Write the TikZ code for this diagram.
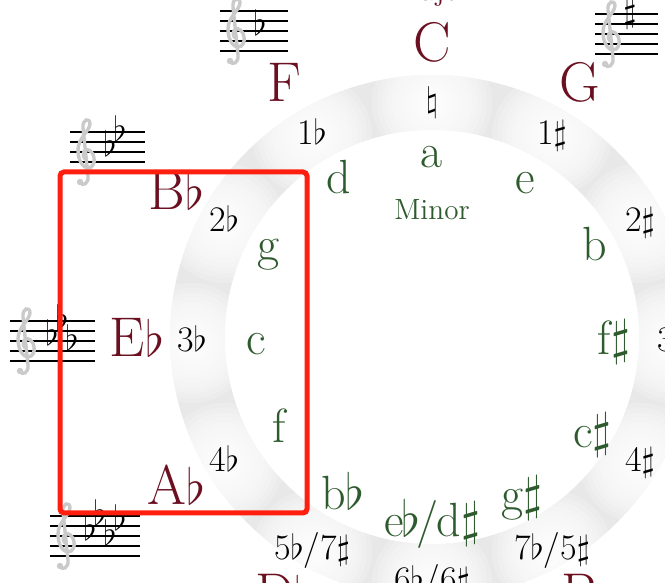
\documentclass[tikz,border=0pt]{standalone}
\usepackage{tikz}
\usetikzlibrary{calc}
\definecolor{majred}{HTML}{6A1020}
\definecolor{mingreen}{HTML}{2E5B2E}
\definecolor{ringgray}{HTML}{E8E8E8}
\definecolor{clefgray}{HTML}{CACACA}
\definecolor{boxred}{HTML}{FF1F0F}
\tikzset{
  every picture/.style={line width=0.8pt},
  major/.style={text=majred, font=\fontsize{28}{28}\selectfont, inner sep=0pt, text height=19.6pt, text depth=5.6pt},
  minor/.style={text=mingreen, font=\fontsize{24}{24}\selectfont, inner sep=0pt, text height=16.8pt, text depth=4.8pt},
  sig/.style={font=\fontsize{18}{18}\selectfont, inner sep=0pt, text height=12.6pt, text depth=3.6pt},
  glow/.style={white, opacity=0.2},
  staffline/.style={line width=0.7pt},
  clef/.style={draw=clefgray, line width=1.7pt, line cap=round},
  acc/.style={font=\fontsize{17}{17}\selectfont, inner sep=0pt},
  %every node/.append style={draw=blue},
}
% staff with a treble clef: left x, bottom line y, width
\newcommand{\keystaff}[3]{%
  \begin{scope}[shift={(#1,#2)}]
    \foreach \l in {0,10,...,40} \draw[staffline] (0,\l) -- (#3,\l);
    \draw[clef] (10,-10) .. controls (12,-15) and (19,-12) .. (18,-4) -- (13,44)
      .. controls (12,53) and (20,55) .. (20,48) .. controls (19,40) and (8,34) .. (8,22)
      .. controls (8,10) and (14,4) .. (18,4) .. controls (23,4) and (25,10) .. (24,14)
      .. controls (23,21) and (18,23) .. (16,22) .. controls (13,21) and (12,16) .. (15,13);
    \fill[clefgray] (10,-10) circle (3.2);
  \end{scope}}

\begin{document}
\begin{tikzpicture}[x=0.5pt, y=0.5pt]
  \useasboundingbox (0,0) rectangle (665,583);
  \coordinate (o) at (432,246);
  \coordinate (t) at (432,240);

  % ring
  \fill[ringgray] (o) circle (262);
  \begin{scope}
    \clip (o) circle (262);
    \foreach \a in {90,60,120,30,150,0,180,-30,-150,-60,-120,-90}
      \foreach \r in {60,55,...,10}
        \fill[glow] ($(t)+(\a:240)$) circle (\r);
  \end{scope}
  \fill[white] (o) circle (207);

  % staves
  \keystaff{220}{532}{68}
  \keystaff{595}{529}{63}
  \keystaff{70}{411}{75}
  \keystaff{10}{222}{85}
  \keystaff{50}{27}{90}
  \node[acc, anchor=base] (fflat) at (260,547) {$\flat$};
  \node[acc] (gsharp) at (630,569) {$\sharp$};
  \node[acc, anchor=base] (bbflat1) at (110,426) {$\flat$};
  \node[acc, anchor=base] (bbflat2) at (120,441) {$\flat$};
  \node[acc, anchor=base] (ebflat1) at (52,237) {$\flat$};
  \node[acc, anchor=base] (ebflat2) at (62,252) {$\flat$};
  \node[acc, anchor=base] (ebflat3) at (72,232) {$\flat$};
  \node[acc, anchor=base] (abflat1) at (90,42) {$\flat$};
  \node[acc, anchor=base] (abflat2) at (100,57) {$\flat$};
  \node[acc, anchor=base] (abflat3) at (110,37) {$\flat$};
  \node[acc, anchor=base] (abflat4) at (120,52) {$\flat$};

  % major keys
  \node[anchor=base, text=majred, font=\fontsize{14.6}{15}\selectfont] (majlbl) at (432,582) {Major};
  \node[major] (cmaj) at ($(t)+(90:295)$) {C};
  \node[major] (gmaj) at ($(t)+(60:295)$) {G};
  \node[major] (fmaj) at ($(t)+(120:295)$) {F};
  \node[major] (bbmaj) at ($(t)+(150:295)$) {B$\flat$};
  \node[major] (ebmaj) at ($(t)+(180:295)$) {E$\flat$};
  \node[major] (abmaj) at ($(t)+(210:295)$) {A$\flat$};
  \node[major] (dbmaj) at ($(t)+(240:295)$) {D$\flat$};
  \node[major] (bmaj) at ($(t)+(300:295)$) {B};

  % signatures
  \node[sig] (s0) at ($(t)+(90:240)$) {$\natural$};
  \node[sig] (s1s) at ($(t)+(60:240)$) {1$\sharp$};
  \node[sig] (s1f) at ($(t)+(120:240)$) {1$\flat$};
  \node[sig] (s2s) at ($(t)+(30:240)$) {2$\sharp$};
  \node[sig] (s2f) at ($(t)+(150:240)$) {2$\flat$};
  \node[sig] (s3s) at ($(t)+(0:240)$) {3$\sharp$};
  \node[sig] (s3f) at ($(t)+(180:240)$) {3$\flat$};
  \node[sig] (s4s) at ($(t)+(-30:240)$) {4$\sharp$};
  \node[sig] (s4f) at ($(t)+(-150:240)$) {4$\flat$};
  \node[sig] (s5f) at ($(t)+(-120:240)$) {5$\flat$/7$\sharp$};
  \node[sig] (s5s) at ($(t)+(-60:240)$) {7$\flat$/5$\sharp$};
  \node[sig] (s6) at ($(t)+(-90:240)$) {6$\flat$/6$\sharp$};

  % minor keys
  \node[text=mingreen, font=\fontsize{14.6}{15}\selectfont] (minlbl) at (432,373) {Minor};
  \node[minor] (amin) at ($(t)+(90:187)$) {a};
  \node[minor] (emin) at ($(t)+(60:187)$) {e};
  \node[minor] (bmin) at ($(t)+(30:188)$) {b};
  \node[minor] (fsmin) at ($(t)+(0:182)$) {f$\sharp$};
  \node[minor] (csmin) at ($(t)+(-30:185)$) {c$\sharp$};
  \node[minor] (gsmin) at ($(t)+(-60:179)$) {g$\sharp$};
  \node[minor] (ebmin) at ($(t)+(-90:182)$) {e\kern-1pt$\flat$\kern-2pt/\kern-1pt d$\sharp$};
  \node[minor] (bbmin) at ($(t)+(-120:178)$) {b$\flat$};
  \node[minor] (fmin) at ($(t)+(-150:176)$) {f};
  \node[minor] (cmin) at ($(t)+(180:176)$) {c};
  \node[minor] (gmin) at ($(t)+(150:189)$) {g};
  \node[minor] (dmin) at ($(t)+(120:186)$) {d};

  % highlight
  \draw[boxred, line width=2.5pt, rounded corners=2pt] (60,411) rectangle (307,70);
\end{tikzpicture}
\end{document}
